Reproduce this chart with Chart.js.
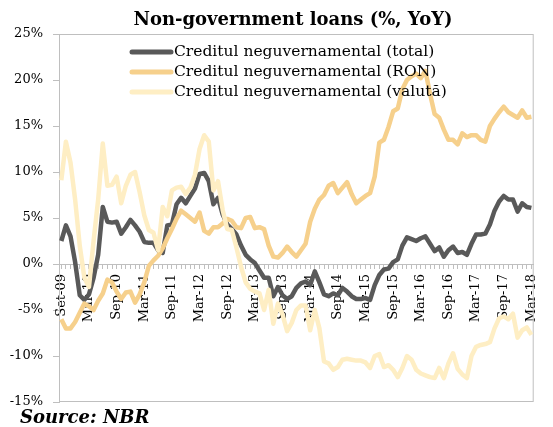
<!DOCTYPE html>
<html>
<head>
<meta charset="utf-8">
<script src="https://cdn.jsdelivr.net/npm/chart.js@4"></script>
<style>
  html, body { margin: 0; padding: 0; background: #fff; }
  #wrap { width: 553px; height: 427px; position: relative; }
</style>
</head>
<body>
<div id="wrap"><canvas id="chart"></canvas></div>
<script>
/* === DATA === */
// lunar, Sep-09 .. Mar-18 (103 luni)
const tickLabels = ["Set-09","Mar-10","Sep-10","Mar-11","Sep-11","Mar-12","Sep-12","Mar-13","Sep-13",
  "Mar-14","Sep-14","Mar-15","Sep-15","Mar-16","Sep-16","Mar-17","Sep-17","Mar-18"];

const monthNames = ["Jan","Feb","Mar","Apr","May","Jun","Jul","Aug","Sep","Oct","Nov","Dec"];
const categories = [];
for (let i = 0; i < 103; i++) {
  const m = (8 + i) % 12;
  const y = 9 + Math.floor((8 + i) / 12);
  categories.push(monthNames[m] + "-" + String(y).padStart(2, "0"));
}

const totalSeries = [
  2.5, 4.2, 3.0, 0.2, -3.4, -3.9, -3.3, -1.5, 1.0, 6.2,
  4.6, 4.5, 4.6, 3.3, 4.0, 4.8, 4.2, 3.5, 2.4, 2.3,
  2.3, 1.5, 1.2, 4.2, 4.3, 6.5, 7.2, 6.6, 7.4, 8.2,
  9.8, 9.9, 9.0, 6.5, 7.2, 5.4, 4.3, 3.8, 3.2, 2.0,
  1.0, 0.5, 0.1, -0.7, -1.5, -1.5, -3.5, -2.5, -3.4, -3.8,
  -3.5, -2.6, -2.1, -1.9, -2.3, -0.8, -2.0, -3.3, -3.5, -3.2,
  -3.4, -2.6, -3.0, -3.5, -3.8, -3.8, -3.7, -3.9, -2.3, -1.2,
  -0.6, -0.5, 0.2, 0.5, 2.0, 2.9, 2.7, 2.5, 2.8, 3.0,
  2.2, 1.4, 1.8, 0.8, 1.5, 1.9, 1.2, 1.3, 1.0, 2.2,
  3.2, 3.2, 3.3, 4.3, 5.8, 6.8, 7.4, 7.0, 7.0, 5.7,
  6.6, 6.2, 6.1
];

const ronSeries = [
  -6.0, -7.0, -7.0, -6.3, -5.3, -4.3, -4.6, -5.0, -4.0, -3.2,
  -1.7, -2.0, -3.0, -3.8, -3.1, -3.0, -4.2, -3.3, -2.0, -0.2,
  0.4, 0.9, 1.7, 2.8, 3.8, 4.9, 5.8, 5.4, 5.0, 4.6,
  5.6, 3.6, 3.3, 4.0, 4.0, 4.4, 4.9, 4.7, 4.0, 3.9,
  5.0, 5.1, 3.9, 4.0, 3.8, 2.0, 0.8, 0.7, 1.2, 1.9,
  1.3, 0.8, 1.5, 2.2, 4.6, 6.0, 7.0, 7.5, 8.5, 8.8,
  7.7, 8.3, 8.9, 7.6, 6.6, 7.0, 7.4, 7.7, 9.5, 13.2,
  13.5, 14.9, 16.6, 16.9, 19.0, 20.0, 20.4, 20.7, 20.2, 21.0,
  18.5, 16.3, 15.9, 14.6, 13.5, 13.5, 13.0, 14.2, 13.8, 14.0,
  14.0, 13.5, 13.3, 15.0, 15.8, 16.5, 17.1, 16.5, 16.2, 15.9,
  16.7, 15.9, 16.0
];

const valutaSeries = [
  9.1, 13.3, 11.0, 7.0, 2.0, -1.5, -2.5, 2.5, 7.0, 13.1,
  8.5, 8.6, 9.5, 6.6, 8.5, 9.7, 10.0, 7.8, 5.3, 3.7,
  3.4, 1.5, 6.2, 5.2, 8.0, 8.3, 8.4, 7.6, 8.3, 9.7,
  12.5, 14.0, 13.3, 8.0, 9.0, 5.9, 3.8, 3.7, 1.8, -0.3,
  -2.0, -2.7, -3.0, -3.2, -5.0, -2.8, -6.5, -4.3, -5.5, -7.3,
  -6.4, -5.0, -4.5, -4.5, -7.2, -5.0, -7.0, -10.6, -10.8, -11.5,
  -11.2, -10.4, -10.3, -10.4, -10.5, -10.5, -10.7, -11.3, -10.0, -9.8,
  -11.2, -11.0, -11.5, -12.3, -11.3, -10.0, -10.4, -11.5, -11.9, -12.1,
  -12.3, -12.4, -11.3, -12.4, -10.8, -9.7, -11.4, -12.0, -12.4, -10.0,
  -9.0, -8.8, -8.7, -8.5, -7.0, -5.9, -5.7, -6.0, -5.4, -8.0,
  -7.2, -6.9, -7.7
];

const seriesNames = [
  "Creditul neguvernamental (total)",
  "Creditul neguvernamental (RON)",
  "Creditul neguvernamental (valută)"
];
const seriesColors = ["#595959", "#F6D08C", "#FEEEC4"];

/* === PLUGINS === */
const serif = "'DejaVu Serif', 'Liberation Serif', serif";
const gridGray = "#BFBFBF";

// rama zonei de grafic
const framePlugin = {
  id: "frame",
  beforeDatasetsDraw(chart) {
    const { ctx, chartArea: a } = chart;
    ctx.save();
    ctx.strokeStyle = gridGray;
    ctx.lineWidth = 1;
    ctx.strokeRect(a.left + 0.5, a.top + 0.5, a.right - a.left - 1, a.bottom - a.top - 1);
    ctx.restore();
  }
};

// titlu, legenda si sursa
const textPlugin = {
  id: "texts",
  afterDraw(chart) {
    const ctx = chart.ctx;
    ctx.save();
    ctx.fillStyle = "#000";
    ctx.textBaseline = "middle";

    ctx.font = "bold 18px " + serif;
    ctx.textAlign = "center";
    ctx.fillText("Non-government loans (%, YoY)", 293, 20);

    ctx.font = "15.5px " + serif;
    ctx.textAlign = "left";
    seriesNames.forEach((name, i) => {
      const y = 52 + i * 20;
      ctx.strokeStyle = seriesColors[i];
      ctx.lineWidth = 5;
      ctx.lineCap = "round";
      ctx.beginPath();
      ctx.moveTo(132, y);
      ctx.lineTo(171, y);
      ctx.stroke();
      ctx.fillText(name, 174, y);
    });

    ctx.font = "italic bold 18px " + serif;
    ctx.fillText("Source: NBR", 20, 418);
    ctx.restore();
  }
};

/* === CHART === */
const datasets = [totalSeries, ronSeries, valutaSeries].map((data, i) => ({
  label: seriesNames[i],
  data: data,
  borderColor: seriesColors[i],
  backgroundColor: seriesColors[i],
  borderWidth: 4.5,
  pointRadius: 0,
  tension: 0,
  borderJoinStyle: "round",
  fill: false,
  order: 2 - i
}));

new Chart(document.getElementById("chart"), {
  type: "line",
  data: { labels: categories, datasets: datasets },
  plugins: [framePlugin, textPlugin],
  options: {
    responsive: true,
    maintainAspectRatio: false,
    animation: false,
    layout: { padding: { top: 34, right: 1, bottom: 25, left: 0 } },
    plugins: {
      legend: { display: false },
      title: { display: false },
      tooltip: { enabled: false }
    },
    scales: {
      x: {
        position: { y: 0 },
        offset: true,
        grid: { offset: false, drawOnChartArea: false, drawTicks: true, tickLength: 4, color: gridGray },
        border: { display: true, color: gridGray, width: 1 },
        ticks: {
          autoSkip: false,
          maxRotation: 90,
          minRotation: 90,
          padding: 6,
          color: "#000",
          font: { family: serif, size: 13 },
          callback: (v, idx) => (idx % 6 === 0 ? tickLabels[idx / 6] : "")
        }
      },
      y: {
        min: -15,
        max: 25,
        afterFit: scale => { scale.width = 59; },
        grid: { drawOnChartArea: false, drawTicks: true, tickLength: 6, color: gridGray },
        border: { display: true, color: gridGray, width: 1 },
        ticks: {
          stepSize: 5,
          padding: 10,
          color: "#000",
          font: { family: serif, size: 13 },
          callback: v => v + "%"
        }
      }
    }
  }
});
</script>
</body>
</html>
